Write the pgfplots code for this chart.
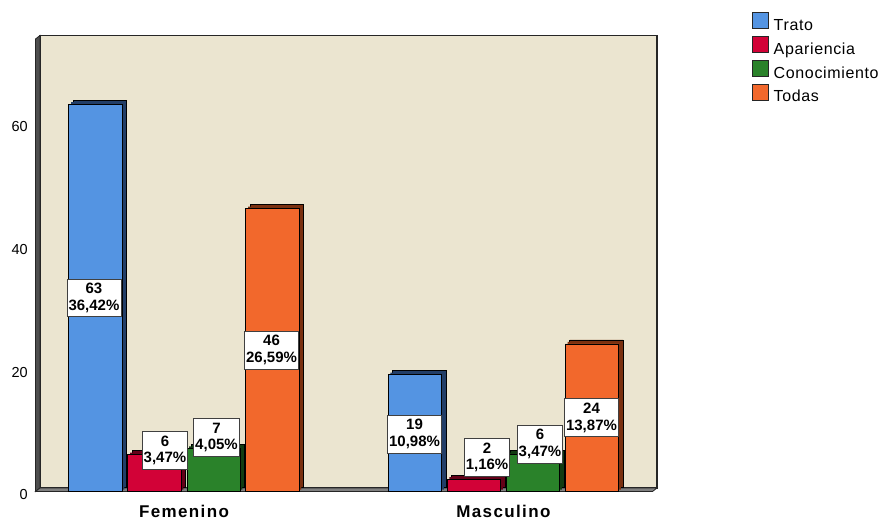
\documentclass[border=0pt]{standalone}
\usepackage{fontspec}
\setmainfont{Liberation Sans}
\newfontfamily\catfont[LetterSpace=8]{Liberation Sans}
\newfontfamily\legfont[LetterSpace=4]{Liberation Sans}
\usepackage{pgfplots}
\usepackage{pgfplotstable}
\pgfplotsset{compat=1.18}

\definecolor{wall}{RGB}{235,229,208}
\definecolor{sidewall}{RGB}{78,78,78}
\definecolor{floorc}{RGB}{128,128,128}
\definecolor{cTrato}{RGB}{84,148,226}
\definecolor{cTratoD}{RGB}{34,62,104}
\definecolor{cApar}{RGB}{210,2,55}
\definecolor{cAparD}{RGB}{100,0,24}
\definecolor{cCono}{RGB}{42,130,42}
\definecolor{cConoD}{RGB}{18,60,18}
\definecolor{cTodas}{RGB}{242,104,44}
\definecolor{cTodasD}{RGB}{122,48,16}

% g: group (0 = Femenino, 1 = Masculino), n: count, pct: share of all 173,
% lx / ly: centre of the value box
\pgfplotstableread{
g n  pct   lx      ly
0 63 36.42 -0.2818 31.5
1 19 10.98  0.7217  9.35
}\trato
\pgfplotstableread{
g n  pct   lx      ly
0 6  3.47  -0.0595 6.67
1 2  1.16   0.9487 5.53
}\apariencia
\pgfplotstableread{
g n  pct   lx      ly
0 7  4.05   0.1018 8.78
1 6  3.47   1.1146 7.72
}\conocimiento
\pgfplotstableread{
g n  pct   lx      ly
0 46 26.59  0.2740 23.0
1 24 13.87  1.2758 12.0
}\todas

\pgfplotsset{
  front/.style 2 args={ybar, bar width=0.1669, bar shift=#1, fill=#2,
    draw=black, line width=0.7pt,
    legend image code/.code={\draw[fill=#2, draw=black!85, line width=0.7pt]
      (0pt,2pt) rectangle (16pt,18pt);}},
  barside/.style 2 args={ybar, bar width=0.1669, bar shift=#1, fill=#2,
    draw=none, forget plot},
  valuebox/.style={draw=none, mark=none, forget plot,
    point meta=\thisrow{n},
    visualization depends on={\thisrow{pct} \as \pct},
    nodes near coords={\pgfmathprintnumber{\pgfplotspointmeta}\\%
      \pgfmathprintnumber[fixed, fixed zerofill, precision=2, use comma]{\pct}\%},
    nodes near coords align={center},
    every node near coord/.style={anchor=center, fill=white, draw=black!75,
      line width=0.6pt, inner xsep=1.5pt, inner ysep=4.3pt, align=center,
      font=\fontsize{15}{16.5}\selectfont\bfseries}},
}

\begin{document}
\begin{tikzpicture}
\begin{axis}[
  at={(35.5pt,28.5pt)}, anchor=south west,
  scale only axis, width=617pt, height=452.5pt,
  xmin=-0.4649, xmax=1.4668, ymin=0, ymax=73.58,
  clip=false,
  axis line style={draw=none},
  major tick length=0pt,
  xtick={0,1}, xticklabels={Femenino,Masculino},
  ytick={0,20,40,60},
  /pgf/number format/assume math mode=true,
  xticklabel style={anchor=north, inner sep=0pt, yshift=-13.5pt,
    font=\catfont\fontsize{17}{20}\selectfont\bfseries},
  yticklabel style={anchor=east, inner sep=0pt, xshift=-7.5pt, yshift=-3.5pt,
    font=\fontsize{14.5}{17}\selectfont},
  legend style={at={(axis description cs:1.1613,1.0597)}, anchor=north west,
    draw=none, fill=none, inner sep=0pt, outer sep=0pt,
    row sep=1.5pt, column sep=5pt,
    font=\legfont\fontsize{16}{19}\selectfont,
    nodes={inner sep=0pt, text depth=4pt},
    cells={anchor=base west}},
]
% box of the chart: back wall, left side wall and floor
\filldraw[fill=wall, draw=black!85, line width=1.1pt]
  ([shift={(4.5pt,3.5pt)}]rel axis cs:0,0) rectangle
  ([shift={(4.5pt,3.5pt)}]rel axis cs:1,1);
\filldraw[fill=sidewall, draw=black!85, line width=0.8pt]
  (rel axis cs:0,0) -- (rel axis cs:0,1)
  -- ([shift={(4.5pt,3.5pt)}]rel axis cs:0,1)
  -- ([shift={(4.5pt,3.5pt)}]rel axis cs:0,0) -- cycle;
\filldraw[fill=floorc, draw=black!85, line width=0.8pt]
  (rel axis cs:0,0) -- (rel axis cs:1,0)
  -- ([shift={(4.5pt,3.5pt)}]rel axis cs:1,0)
  -- ([shift={(4.5pt,3.5pt)}]rel axis cs:0,0) -- cycle;

% side and top faces of the bars
\addplot[barside={-0.2771}{cTratoD}, draw=black, line width=0.6pt, xshift=4.5pt, yshift=4pt] table[x=g, y=n] {\trato};
\addplot[barside={-0.2771}{cTratoD}, xshift=2.25pt, yshift=2pt] table[x=g, y=n] {\trato};
\addplot[barside={-0.0924}{cAparD}, draw=black, line width=0.6pt, xshift=4.5pt, yshift=4pt] table[x=g, y=n] {\apariencia};
\addplot[barside={-0.0924}{cAparD}, xshift=2.25pt, yshift=2pt] table[x=g, y=n] {\apariencia};
\addplot[barside={0.0924}{cConoD}, draw=black, line width=0.6pt, xshift=4.5pt, yshift=4pt] table[x=g, y=n] {\conocimiento};
\addplot[barside={0.0924}{cConoD}, xshift=2.25pt, yshift=2pt] table[x=g, y=n] {\conocimiento};
\addplot[barside={0.2771}{cTodasD}, draw=black, line width=0.6pt, xshift=4.5pt, yshift=4pt] table[x=g, y=n] {\todas};
\addplot[barside={0.2771}{cTodasD}, xshift=2.25pt, yshift=2pt] table[x=g, y=n] {\todas};

% front faces
\addplot[front={-0.2771}{cTrato}] table[x=g, y=n] {\trato};
\addlegendentry{Trato}
\addplot[front={-0.0924}{cApar}] table[x=g, y=n] {\apariencia};
\addlegendentry{Apariencia}
\addplot[front={0.0924}{cCono}] table[x=g, y=n] {\conocimiento};
\addlegendentry{Conocimiento}
\addplot[front={0.2771}{cTodas}] table[x=g, y=n] {\todas};
\addlegendentry{Todas}

% count and percentage boxes
\addplot[valuebox] table[x=lx, y=ly] {\trato};
\addplot[valuebox] table[x=lx, y=ly] {\apariencia};
\addplot[valuebox] table[x=lx, y=ly] {\conocimiento};
\addplot[valuebox] table[x=lx, y=ly] {\todas};
\end{axis}
\pgfresetboundingbox
\useasboundingbox (0,0) rectangle (885pt,520pt);
\end{tikzpicture}
\end{document}
